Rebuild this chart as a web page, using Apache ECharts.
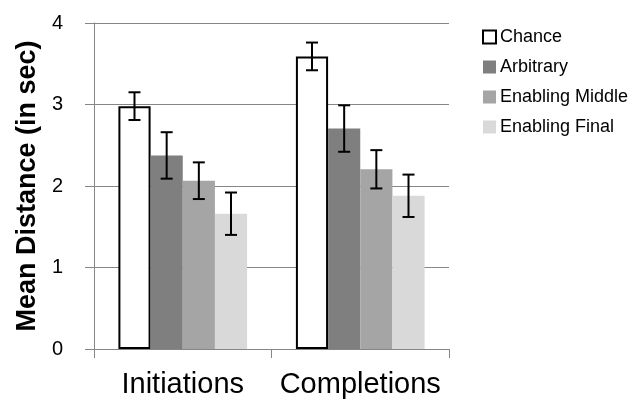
<!DOCTYPE html>
<html>
<head>
<meta charset="utf-8">
<script src="https://cdn.jsdelivr.net/npm/echarts@6/dist/echarts.min.js"></script>
<style>html,body{margin:0;padding:0;background:#fff}#c{width:644px;height:404px}</style>
</head>
<body>
<div id="c"></div>
<script>
var categories = ['Initiations', 'Completions'];
var seriesNames = ['Chance', 'Arbitrary', 'Enabling Middle', 'Enabling Final'];
var chance = [2.98, 3.59];
var arbitrary = [2.375, 2.705];
var enablingMiddle = [2.065, 2.205];
var enablingFinal = [1.66, 1.88];
var chanceErr = [0.17, 0.17];
var arbitraryErr = [0.285, 0.285];
var enablingMiddleErr = [0.225, 0.235];
var enablingFinalErr = [0.26, 0.26];
var yTicks = [0, 1, 2, 3, 4];

var values = [chance, arbitrary, enablingMiddle, enablingFinal];
var errs = [chanceErr, arbitraryErr, enablingMiddleErr, enablingFinalErr];
var colors = ['#ffffff', '#7f7f7f', '#a5a5a5', '#d9d9d9'];
var gapFrac = 0.275;
var FONT = '"Liberation Sans", Arial, sans-serif';

var errData = [];
for (var s = 0; s < values.length; s++) {
  for (var c = 0; c < categories.length; c++) {
    errData.push([c, values[s][c] - errs[s][c], values[s][c] + errs[s][c], s]);
  }
}

var series = values.map(function (v, i) {
  return {
    name: seriesNames[i],
    type: 'bar',
    data: v,
    barGap: '0%',
    barCategoryGap: (gapFrac * 100) + '%',
    itemStyle: i === 0 ? { color: '#ffffff', borderColor: '#000', borderWidth: 2 } : { color: colors[i] },
    z: 2
  };
});

series.push({
  type: 'custom',
  name: 'err',
  data: errData,
  z: 5,
  encode: { x: 0, y: [1, 2] },
  renderItem: function (params, api) {
    var ci = api.value(0), lo = api.value(1), hi = api.value(2), si = api.value(3);
    var band = api.size([1, 0])[0];
    var bw = band * (1 - gapFrac) / 4;
    var p1 = api.coord([ci, hi]);
    var p2 = api.coord([ci, lo]);
    var x = p1[0] + (si - 1.5) * bw;
    var cap = 6;
    var st = { stroke: '#000', lineWidth: 2 };
    return {
      type: 'group',
      children: [
        { type: 'line', shape: { x1: x, y1: p1[1], x2: x, y2: p2[1] }, style: st },
        { type: 'line', shape: { x1: x - cap, y1: p1[1], x2: x + cap, y2: p1[1] }, style: st },
        { type: 'line', shape: { x1: x - cap, y1: p2[1], x2: x + cap, y2: p2[1] }, style: st }
      ]
    };
  }
});

var chart = echarts.init(document.getElementById('c'), null, { renderer: 'canvas' });
chart.setOption({
  animation: false,
  backgroundColor: '#fff',
  grid: { left: 94, right: 195, top: 23, bottom: 55, containLabel: false },
  legend: {
    data: seriesNames,
    orient: 'vertical',
    left: 482,
    top: 28,
    padding: 0,
    itemWidth: 13,
    itemHeight: 13,
    itemGap: 12,
    icon: 'rect',
    textStyle: { fontFamily: FONT, fontSize: 18, color: '#000', lineHeight: 18, padding: [0, 0, 0, -1] },
    selectedMode: false
  },
  xAxis: {
    type: 'category',
    data: categories,
    axisLine: { lineStyle: { color: '#868686', width: 1 } },
    axisTick: { show: true, length: 9, lineStyle: { color: '#868686' } },
    axisLabel: { fontFamily: FONT, fontSize: 29, color: '#000', margin: 21, interval: 0 }
  },
  yAxis: {
    type: 'value',
    min: yTicks[0],
    max: yTicks[yTicks.length - 1],
    interval: 1,
    name: 'Mean Distance (in sec)',
    nameLocation: 'middle',
    nameRotate: 90,
    nameGap: 48,
    nameTextStyle: { fontFamily: FONT, fontSize: 27, fontWeight: 'bold', color: '#000' },
    axisLine: { show: true, lineStyle: { color: '#868686', width: 1 } },
    axisTick: { show: true, length: 9, lineStyle: { color: '#868686' } },
    axisLabel: { fontFamily: FONT, fontSize: 20, color: '#000', margin: 31 },
    splitLine: { show: true, lineStyle: { color: '#868686', width: 1 } }
  },
  series: series
});
</script>
</body>
</html>
